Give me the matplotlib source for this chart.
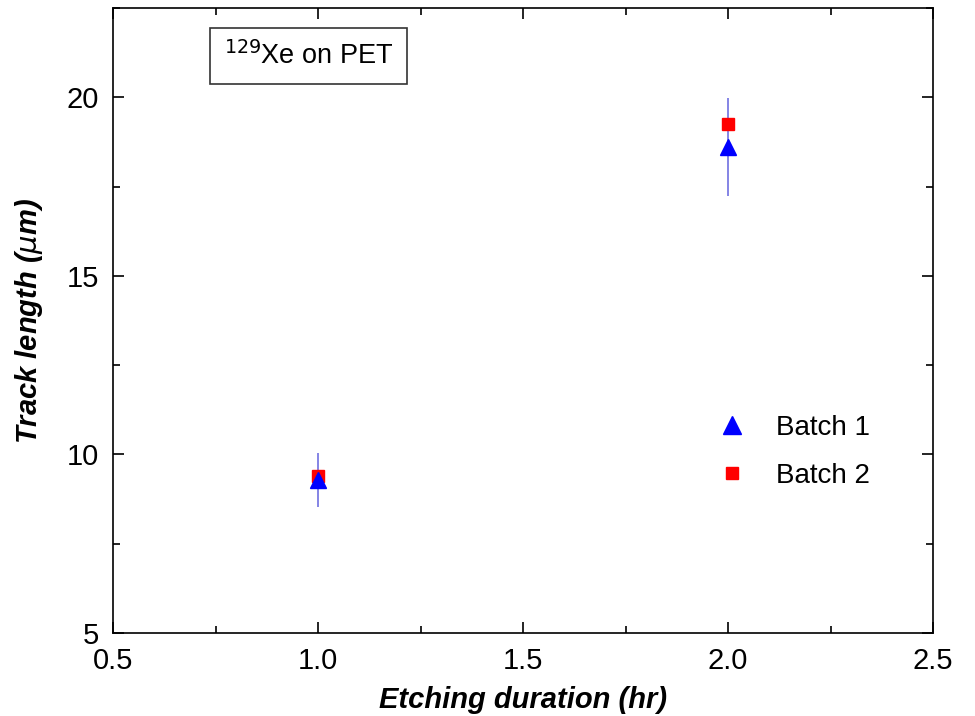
import matplotlib
matplotlib.use("Agg")
import matplotlib.pyplot as plt
from matplotlib.ticker import MultipleLocator

plt.rcParams['font.family'] = ['Liberation Sans', 'DejaVu Sans']

x = [1.0, 2.0]
batch1 = [9.28, 18.6]
batch1_err = [0.75, 1.37]
batch2 = [9.40, 19.25]

fig = plt.figure(figsize=(9.75, 7.16), dpi=100)
ax = fig.add_axes([113/975, 1-633/716, 820/975, 625/716])

ax.errorbar(x, batch1, yerr=batch1_err, fmt='none', ecolor='#7070e0', elinewidth=1.2, zorder=2)
ax.plot(x, batch2, 's', color='#ff0000', markersize=8, zorder=3, label='Batch 2', linestyle='none')
ax.plot(x, batch1, '^', color='#0000ff', markersize=12, zorder=4, label='Batch 1', linestyle='none')

ax.set_xlim(0.5, 2.5)
ax.set_ylim(5, 22.5)
ax.xaxis.set_major_locator(MultipleLocator(0.5))
ax.xaxis.set_minor_locator(MultipleLocator(0.25))
ax.yaxis.set_major_locator(MultipleLocator(5))
ax.yaxis.set_minor_locator(MultipleLocator(2.5))
ax.xaxis.set_major_formatter(matplotlib.ticker.FormatStrFormatter('%.1f'))
ax.tick_params(which='both', direction='in', top=True, right=True, labelsize=21)
ax.tick_params(which='major', length=8, width=1.2)
ax.tick_params(which='minor', length=5, width=1.2)
ax.tick_params(axis='x', pad=10)
ax.tick_params(axis='y', pad=10)
for s in ax.spines.values():
    s.set_linewidth(1.2)

ax.set_xlabel('Etching duration (hr)', fontsize=21, fontweight='bold', style='italic', labelpad=8)
ax.set_ylabel(r'Track length ($\mu$m)', fontsize=21, fontweight='bold', style='italic', labelpad=16)

ax.text(0.135, 0.923, r'$^{129}$Xe on PET', transform=ax.transAxes, fontsize=19.5,
        va='center', ha='left',
        bbox=dict(boxstyle='square,pad=0.5', facecolor='white', edgecolor='#333333', linewidth=1.2))

h, l = ax.get_legend_handles_labels()
ax.legend([h[1], h[0]], [l[1], l[0]], loc='center left', bbox_to_anchor=(0.69, 0.29),
          frameon=False, fontsize=20, handletextpad=0.6, labelspacing=0.8, markerscale=1.1)

fig.savefig('out.png', dpi=100)
